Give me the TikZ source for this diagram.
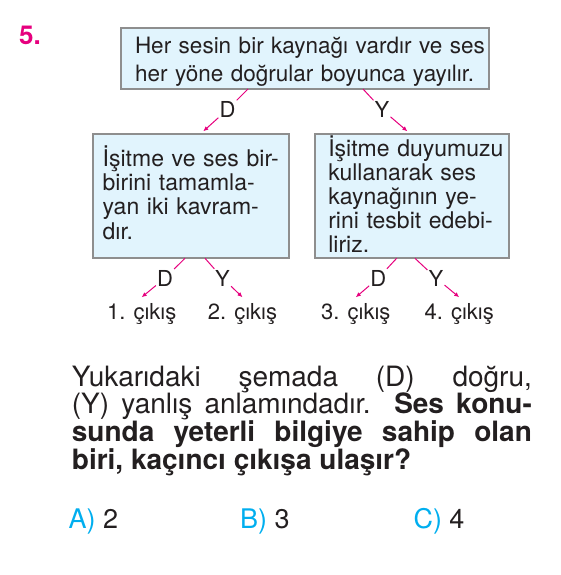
\documentclass[tikz,border=0pt]{standalone}
\usepackage{fontspec}
\setmainfont{TeX Gyre Heros}
\usepackage{tikz}
\usetikzlibrary{arrows.meta}

\definecolor{boxblue}{HTML}{E1F4FD}
\definecolor{boxgray}{HTML}{8E8E8E}
\definecolor{arrowpink}{HTML}{E6007E}
\definecolor{optcyan}{HTML}{00AEEF}
\definecolor{textdark}{HTML}{231F20}

\begin{document}
\begin{tikzpicture}[x=1pt, y=-1pt,
    every node/.style={text=textdark},
    box/.style={draw=boxgray, fill=boxblue, line width=1.8pt, anchor=north west, inner sep=0pt, outer sep=0pt, align=left},
    choice/.style={font=\fontsize{22}{22}\selectfont, inner sep=1pt},
    exit/.style={font=\fontsize{22}{22}\selectfont, anchor=base, inner sep=5.5pt},
    branch/.style={draw=arrowpink, line width=1pt, -{Latex[length=5pt,width=4.5pt]}},
    option/.style={font=\fontsize{27}{27}\selectfont, anchor=base west, inner sep=0pt}]

    \useasboundingbox (0,0) rectangle (560,575);

    % Question number
    \node[anchor=base west, inner sep=0pt, text=arrowpink, font=\bfseries\fontsize{26}{26}\selectfont] (NUM) at (19,44.3) {5.};

    % Statements
    \node[box, text width=368pt, text height=25.3pt, text depth=35.7pt, font=\fontsize{22.5}{28.4}\selectfont, execute at begin node={\leftskip=14pt}] (KAYNAK) at (121,28) {Her sesin bir kaynağı vardır ve ses\\her yöne doğrular boyunca yayılır.};
    \node[box, text width=196.6pt, text height=32.4pt, text depth=91.6pt, font=\fontsize{23}{24.1}\selectfont, execute at begin node={\leftskip=10pt}] (ISITME) at (92.7,134.3) {İşitme ve ses bir-\\birini tamamla-\\yan iki kavram-\\dır.};
    \node[box, text width=194.3pt, text height=22.4pt, text depth=101.6pt, font=\fontsize{23}{24}\selectfont, execute at begin node={\leftskip=13.3pt}] (DUYUM) at (315,134.3) {İşitme duyumuzu\\kullanarak ses\\kaynağının ye-\\rini tesbit edebi-\\liriz.};

    % D / Y labels
    \node[choice] (D1) at (227.5,109.5) {D};
    \node[choice] (Y1) at (382,109.5) {Y};
    \node[choice] (D2) at (165,278) {D};
    \node[choice] (Y2) at (222.5,278) {Y};
    \node[choice] (D3) at (378.3,278) {D};
    \node[choice] (Y3) at (436,278) {Y};

    % Exits
    \node[exit] (EXIT1) at (141.7,319) {1. çıkış};
    \node[exit] (EXIT2) at (242.5,319) {2. çıkış};
    \node[exit] (EXIT3) at (355.8,319) {3. çıkış};
    \node[exit] (EXIT4) at (459.2,319) {4. çıkış};

    % Branches
    \draw[branch] ([xshift=-57pt]KAYNAK.south) -- (D1) -- ([xshift=12.3pt, yshift=3pt]ISITME.north);
    \draw[branch] ([xshift=58pt]KAYNAK.south) -- (Y1) -- ([xshift=-4.8pt, yshift=3pt]DUYUM.north);
    \draw[branch] ([xshift=-6pt]ISITME.south) -- (D2) -- (EXIT1.north);
    \draw[branch] ([xshift=14pt]ISITME.south) -- (Y2) -- (EXIT2.north);
    \draw[branch] ([xshift=-15.5pt]DUYUM.south) -- (D3) -- (EXIT3.north);
    \draw[branch] ([xshift=2.8pt]DUYUM.south) -- (Y3) -- (EXIT4.north);

    % Question
    \node[anchor=base west, inner sep=0pt, text width=460pt, align=justify, font=\fontsize{28}{27.7}\selectfont] (SORU) at (71.7,386) {Yukarıdaki şemada (D) doğru,\linebreak (Y) yanlış anlamındadır. \textbf{Ses konu-\linebreak sunda yeterli bilgiye sahip olan\linebreak biri, kaçıncı çıkışa ulaşır?}};

    % Options
    \node[option] (OPTA) at (68.3,528.3) {\textcolor{optcyan}{A)} 2};
    \node[option] (OPTB) at (240,528.3) {\textcolor{optcyan}{B)} 3};
    \node[option] (OPTC) at (413.3,528.3) {\textcolor{optcyan}{C)} 4};
\end{tikzpicture}
\end{document}
